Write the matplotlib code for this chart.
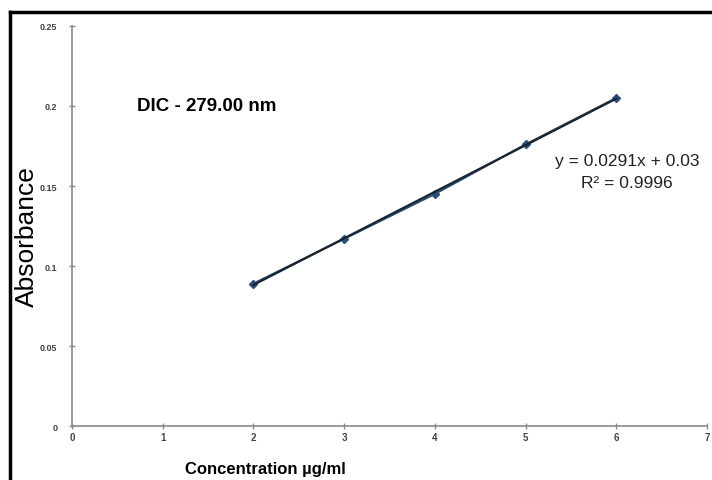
import numpy as np
import matplotlib
matplotlib.use("Agg")
import matplotlib.pyplot as plt
from matplotlib.lines import Line2D

plt.rcParams['font.family'] = ['Liberation Sans', 'DejaVu Sans']

# calibration data
conc = [2, 3, 4, 5, 6]
absorb = [0.089, 0.117, 0.145, 0.176, 0.205]
slope = 0.0291
intercept = 0.03
r2 = 0.9996
title_txt = "DIC - 279.00 nm"

fig = plt.figure(figsize=(7.12, 4.81), dpi=100)
ax = fig.add_axes([0.101, 0.112, 0.892, 0.832])

ax.plot(conc, absorb, color='#2b4f78', lw=1.5, marker='D', ms=4,
        mfc='#2b4f78', mec='#2b4f78', zorder=3)
xf = np.array([conc[0], conc[-1]])
ax.plot(xf, slope * xf + intercept, color='#1a2530', lw=1.6, zorder=4)

ax.set_xlim(0, 7)
ax.set_ylim(0, 0.25)
ax.set_xticks(range(0, 8))
ax.set_yticks([0, 0.05, 0.1, 0.15, 0.2, 0.25])
ax.set_yticklabels(['0', '0.05', '0.1', '0.15', '0.2', '0.25'])

for s in ['top', 'right']:
    ax.spines[s].set_visible(False)
for s in ['left', 'bottom']:
    ax.spines[s].set_color('#8a8a8a')
    ax.spines[s].set_linewidth(1.2)
ax.tick_params(axis='both', direction='inout', length=5, width=1,
               color='#8a8a8a', labelsize=7, labelcolor='#444444')
ax.tick_params(axis='x', pad=2)
ax.tick_params(axis='y', pad=8, labelsize=6.5)
for lab in ax.get_xticklabels() + ax.get_yticklabels():
    lab.set_fontweight('bold')

ax.set_ylabel('Absorbance', fontsize=19)
ax.set_xlabel(u'Concentration \u00b5g/ml', fontsize=12, fontweight='bold')
ax.xaxis.set_label_coords(0.305, -0.087)
ax.yaxis.set_label_coords(-0.052, 0.475)

ax.text(0.72, 0.2, title_txt, fontsize=13.5, fontweight='bold',
        ha='left', va='center')
ax.text(6.12, 0.1658, "y = %.4fx + %.2f" % (slope, intercept), fontsize=12.5,
        ha='center', va='center', color='#222222')
ax.text(6.12, 0.152, u"R\u00b2 = %.4f" % r2, fontsize=12.5,
        ha='center', va='center', color='#222222')

# frame around the figure (top and left edges)
fig.add_artist(Line2D([10 / 712, 1], [1 - 13 / 481, 1 - 13 / 481],
                      transform=fig.transFigure, color='black', lw=2.5))
fig.add_artist(Line2D([10 / 712, 10 / 712], [0, 1 - 13 / 481],
                      transform=fig.transFigure, color='black', lw=2.5))

fig.savefig('out.png', dpi=100)
